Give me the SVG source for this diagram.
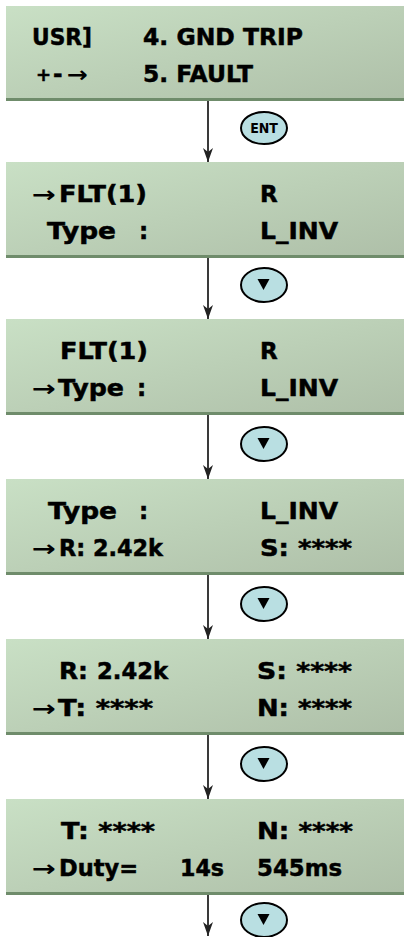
<svg xmlns="http://www.w3.org/2000/svg" width="404" height="937" viewBox="0 0 404 937">
  <defs>
    <linearGradient id="lcd" x1="0" y1="0" x2="1" y2="1">
      <stop offset="0" stop-color="#c9e0c5"/>
      <stop offset="1" stop-color="#aebfa8"/>
    </linearGradient>
    <!-- arrowhead drawn pointing along +x, tip at the line end -->
    <marker id="head" markerUnits="userSpaceOnUse" markerWidth="16" markerHeight="14" viewBox="-15 -7 16 14" refX="0" refY="0" orient="auto">
      <path d="M -14,-5 L 0,0 L -14,5 L -10,0 Z" fill="#222"/>
    </marker>
  </defs>
  <style>
    .panel { fill: url(#lcd); }
    .edge { fill: #6f8c6b; }
    .t { font-family: "DejaVu Sans", "Liberation Sans", sans-serif; font-weight: bold; font-size: 23px; fill: #000; stroke: #000; stroke-width: 0.5; }
    .ar { font-family: "DejaVu Sans", sans-serif; font-weight: bold; font-size: 22px; fill: #000; }
    .conn { stroke: #3a3a3a; stroke-width: 2; fill: none; }
    .key { fill: #b9dfe2; stroke: #000; stroke-width: 2; }
    .keytxt { font-family: "DejaVu Sans Condensed", "DejaVu Sans", sans-serif; font-weight: bold; font-size: 14px; fill: #000; }
    .tri { fill: #000; }
  </style>

  <!-- connectors between screens -->
  <g id="connectors">
    <line class="conn" x1="208" y1="101" x2="208" y2="162" marker-end="url(#head)"/>
    <line class="conn" x1="208" y1="258" x2="208" y2="319" marker-end="url(#head)"/>
    <line class="conn" x1="208" y1="415" x2="208" y2="479" marker-end="url(#head)"/>
    <line class="conn" x1="208" y1="575" x2="208" y2="639" marker-end="url(#head)"/>
    <line class="conn" x1="208" y1="735" x2="208" y2="799" marker-end="url(#head)"/>
    <line class="conn" x1="208" y1="895" x2="208" y2="936" marker-end="url(#head)"/>
  </g>

  <!-- key badges -->
  <g id="key-ent">
    <ellipse class="key" cx="264" cy="128" rx="23" ry="16"/>
    <text class="keytxt" x="264" y="133" text-anchor="middle">ENT</text>
  </g>
  <g id="key-down-1">
    <ellipse class="key" cx="264" cy="285" rx="23" ry="17"/>
    <path class="tri" d="M 257.5,279 L 269.5,279 L 263.5,290 Z"/>
  </g>
  <g id="key-down-2">
    <ellipse class="key" cx="264" cy="444" rx="23" ry="17"/>
    <path class="tri" d="M 257.5,438 L 269.5,438 L 263.5,449 Z"/>
  </g>
  <g id="key-down-3">
    <ellipse class="key" cx="264" cy="604" rx="23" ry="17"/>
    <path class="tri" d="M 257.5,598 L 269.5,598 L 263.5,609 Z"/>
  </g>
  <g id="key-down-4">
    <ellipse class="key" cx="264" cy="764" rx="23" ry="17"/>
    <path class="tri" d="M 257.5,758 L 269.5,758 L 263.5,769 Z"/>
  </g>
  <g id="key-down-5">
    <ellipse class="key" cx="264" cy="920" rx="23" ry="17"/>
    <path class="tri" d="M 257.5,914 L 269.5,914 L 263.5,925 Z"/>
  </g>

  <!-- screen 1: menu -->
  <g id="screen-menu">
    <rect class="panel" x="6" y="6" width="398" height="95"/>
    <rect class="edge" x="6" y="98" width="398" height="3"/>
    <text class="t" x="32" y="45" textLength="60" lengthAdjust="spacingAndGlyphs">USR]</text>
    <text class="t" x="143" y="45" textLength="160" lengthAdjust="spacingAndGlyphs">4. GND TRIP</text>
    <text class="t" x="36" y="81" style="font-size:18px">+</text>
    <text class="t" x="53" y="82">-</text>
    <text class="ar" x="67" y="82" textLength="21" lengthAdjust="spacingAndGlyphs">→</text>
    <text class="t" x="143" y="82" textLength="110" lengthAdjust="spacingAndGlyphs">5. FAULT</text>
  </g>

  <!-- screen 2: fault record -->
  <g id="screen-flt">
    <rect class="panel" x="6" y="162" width="398" height="96"/>
    <rect class="edge" x="6" y="255" width="398" height="3"/>
    <text class="ar" x="32" y="202" textLength="24" lengthAdjust="spacingAndGlyphs">→</text>
    <text class="t" x="59" y="202" textLength="88" lengthAdjust="spacingAndGlyphs">FLT(1)</text>
    <text class="t" x="260" y="202">R</text>
    <text class="t" x="47" y="239" textLength="69" lengthAdjust="spacingAndGlyphs">Type</text>
    <text class="t" x="139" y="239">:</text>
    <text class="t" x="260" y="239" textLength="78" lengthAdjust="spacingAndGlyphs">L_INV</text>
  </g>

  <!-- screen 3: type selected -->
  <g id="screen-type">
    <rect class="panel" x="6" y="319" width="398" height="96"/>
    <rect class="edge" x="6" y="412" width="398" height="3"/>
    <text class="t" x="60" y="359" textLength="88" lengthAdjust="spacingAndGlyphs">FLT(1)</text>
    <text class="t" x="260" y="359">R</text>
    <text class="ar" x="32" y="396" textLength="24" lengthAdjust="spacingAndGlyphs">→</text>
    <text class="t" x="58" y="396" textLength="66" lengthAdjust="spacingAndGlyphs">Type</text>
    <text class="t" x="137" y="396">:</text>
    <text class="t" x="260" y="396" textLength="78" lengthAdjust="spacingAndGlyphs">L_INV</text>
  </g>

  <!-- screen 4: R / S -->
  <g id="screen-rs">
    <rect class="panel" x="6" y="479" width="398" height="96"/>
    <rect class="edge" x="6" y="572" width="398" height="3"/>
    <text class="t" x="48" y="519" textLength="69" lengthAdjust="spacingAndGlyphs">Type</text>
    <text class="t" x="139" y="519">:</text>
    <text class="t" x="260" y="519" textLength="78" lengthAdjust="spacingAndGlyphs">L_INV</text>
    <text class="ar" x="32" y="556" textLength="24" lengthAdjust="spacingAndGlyphs">→</text>
    <text class="t" x="59" y="556" textLength="104" lengthAdjust="spacingAndGlyphs">R: 2.42k</text>
    <text class="t" x="260" y="556" textLength="92" lengthAdjust="spacingAndGlyphs">S: ****</text>
  </g>

  <!-- screen 5: T / N -->
  <g id="screen-tn">
    <rect class="panel" x="6" y="639" width="398" height="96"/>
    <rect class="edge" x="6" y="732" width="398" height="3"/>
    <text class="t" x="59" y="679" textLength="29" lengthAdjust="spacingAndGlyphs">R:</text>
    <text class="t" x="97" y="679" textLength="71" lengthAdjust="spacingAndGlyphs">2.42k</text>
    <text class="t" x="257" y="679" textLength="95" lengthAdjust="spacingAndGlyphs">S: ****</text>
    <text class="ar" x="32" y="716" textLength="24" lengthAdjust="spacingAndGlyphs">→</text>
    <text class="t" x="58" y="716" textLength="95" lengthAdjust="spacingAndGlyphs">T: ****</text>
    <text class="t" x="257" y="716" textLength="95" lengthAdjust="spacingAndGlyphs">N: ****</text>
  </g>

  <!-- screen 6: duty -->
  <g id="screen-duty">
    <rect class="panel" x="6" y="799" width="398" height="96"/>
    <rect class="edge" x="6" y="892" width="398" height="3"/>
    <text class="t" x="61" y="839" textLength="94" lengthAdjust="spacingAndGlyphs">T: ****</text>
    <text class="t" x="257" y="839" textLength="96" lengthAdjust="spacingAndGlyphs">N: ****</text>
    <text class="ar" x="32" y="876" textLength="24" lengthAdjust="spacingAndGlyphs">→</text>
    <text class="t" x="59" y="876" textLength="79" lengthAdjust="spacingAndGlyphs">Duty=</text>
    <text class="t" x="180" y="876" textLength="44" lengthAdjust="spacingAndGlyphs">14s</text>
    <text class="t" x="257" y="876" textLength="85" lengthAdjust="spacingAndGlyphs">545ms</text>
  </g>
</svg>
